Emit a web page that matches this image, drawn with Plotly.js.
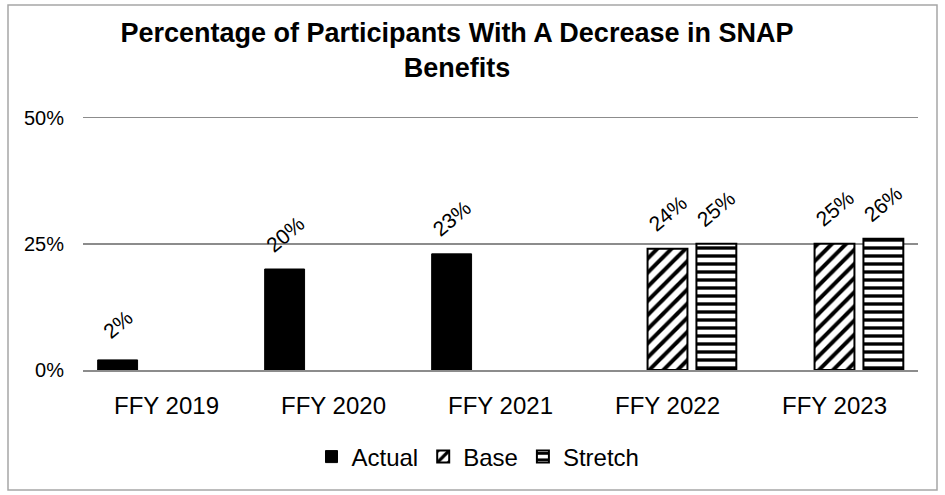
<!DOCTYPE html>
<html>
<head>
<meta charset="utf-8">
<script src="https://cdn.plot.ly/plotly-3.0.1.min.js"></script>
<style>html,body{margin:0;padding:0;background:#fff}#chart{width:945px;height:495px}</style>
</head>
<body>
<div id="chart"></div>
<script>
var categories = ["FFY 2019", "FFY 2020", "FFY 2021", "FFY 2022", "FFY 2023"];
var actualValues = [2, 20, 23, null, null];
var baseValues = [null, null, null, 24, 25];
var stretchValues = [null, null, null, 25, 26];
var yTickValues = [0, 25, 50];
var yTickLabels = ["0%", "25%", "50%"];
var titleText = "Percentage of Participants With A Decrease in SNAP<br>Benefits";

var W = 945, H = 495;
var margin = {l: 83, r: 27, t: 116, b: 125};
var plotW = W - margin.l - margin.r, plotH = H - margin.t - margin.b;
var bargap = 0.122, bargroupgap = 0.184;
var slotPx = plotW / categories.length * (1 - bargap) / 3;

var font = "Liberation Sans, Arial, sans-serif";
function fmt(v){ return v + "%"; }

var series = [
  {name: "Actual", values: actualValues, marker: {color: "#000000", line: {color: "#000000", width: 1}}},
  {name: "Base", values: baseValues, marker: {color: "#ffffff", pattern: {shape: "/", fgcolor: "#000000", bgcolor: "#ffffff", size: 10, solidity: 0.4}, line: {color: "#000000", width: 2}}},
  {name: "Stretch", values: stretchValues, marker: {color: "#ffffff", pattern: {shape: "-", fgcolor: "#000000", bgcolor: "#ffffff", size: 8, solidity: 0.42}, line: {color: "#000000", width: 2}}}
];

var traces = series.map(function(s){
  return {type: "bar", name: s.name, x: categories, y: s.values, marker: s.marker, hoverinfo: "none"};
});

var annotations = [];
series.forEach(function(s, si){
  s.values.forEach(function(v, ci){
    if (v === null) return;
    annotations.push({
      x: categories[ci], y: v, xref: "x", yref: "y", text: fmt(v), showarrow: false,
      textangle: -40, xanchor: "center", yanchor: "middle",
      xshift: (si - 1) * slotPx, yshift: 35,
      font: {family: font, size: 21, color: "#000000"}
    });
  });
});

var shapes = [{
  type: "rect", xref: "paper", yref: "paper",
  x0: (8 - margin.l) / plotW, x1: (937 - margin.l) / plotW,
  y0: (margin.t + plotH - 490) / plotH, y1: (margin.t + plotH - 5) / plotH,
  line: {color: "#a6a6a6", width: 1.5}, fillcolor: "rgba(0,0,0,0)", layer: "below"
}];

var layout = {
  width: W, height: H, margin: margin,
  paper_bgcolor: "#ffffff", plot_bgcolor: "#ffffff",
  barmode: "group", bargap: bargap, bargroupgap: bargroupgap,
  title: {text: titleText, font: {family: font, size: 27, color: "#000000", weight: "bold"},
          x: 457 / W, xanchor: "center", xref: "container", y: 1 - 42 / H, yanchor: "top", yref: "container"},
  xaxis: {type: "category", showgrid: false, showline: true, linecolor: "#8c8c8c", linewidth: 2,
          ticks: "", tickfont: {family: font, size: 24, color: "#000000"}, ticklabelstandoff: 13, fixedrange: true},
  yaxis: {range: [0, 50.3], tickvals: yTickValues, ticktext: yTickLabels, showgrid: true, gridcolor: "#8c8c8c", gridwidth: 1.5,
          zeroline: false, showline: false, ticks: "", tickfont: {family: font, size: 20, color: "#000000"},
          ticklabelstandoff: 18, fixedrange: true},
  showlegend: true,
  legend: {orientation: "h", x: (478 - margin.l) / plotW, xanchor: "center", y: -(457 - margin.t - plotH) / plotH, yanchor: "middle",
           font: {family: font, size: 24, color: "#000000"}, itemwidth: 30, traceorder: "normal"},
  annotations: annotations, shapes: shapes
};

Plotly.newPlot("chart", traces, layout, {staticPlot: true, displayModeBar: false});
</script>
</body>
</html>
